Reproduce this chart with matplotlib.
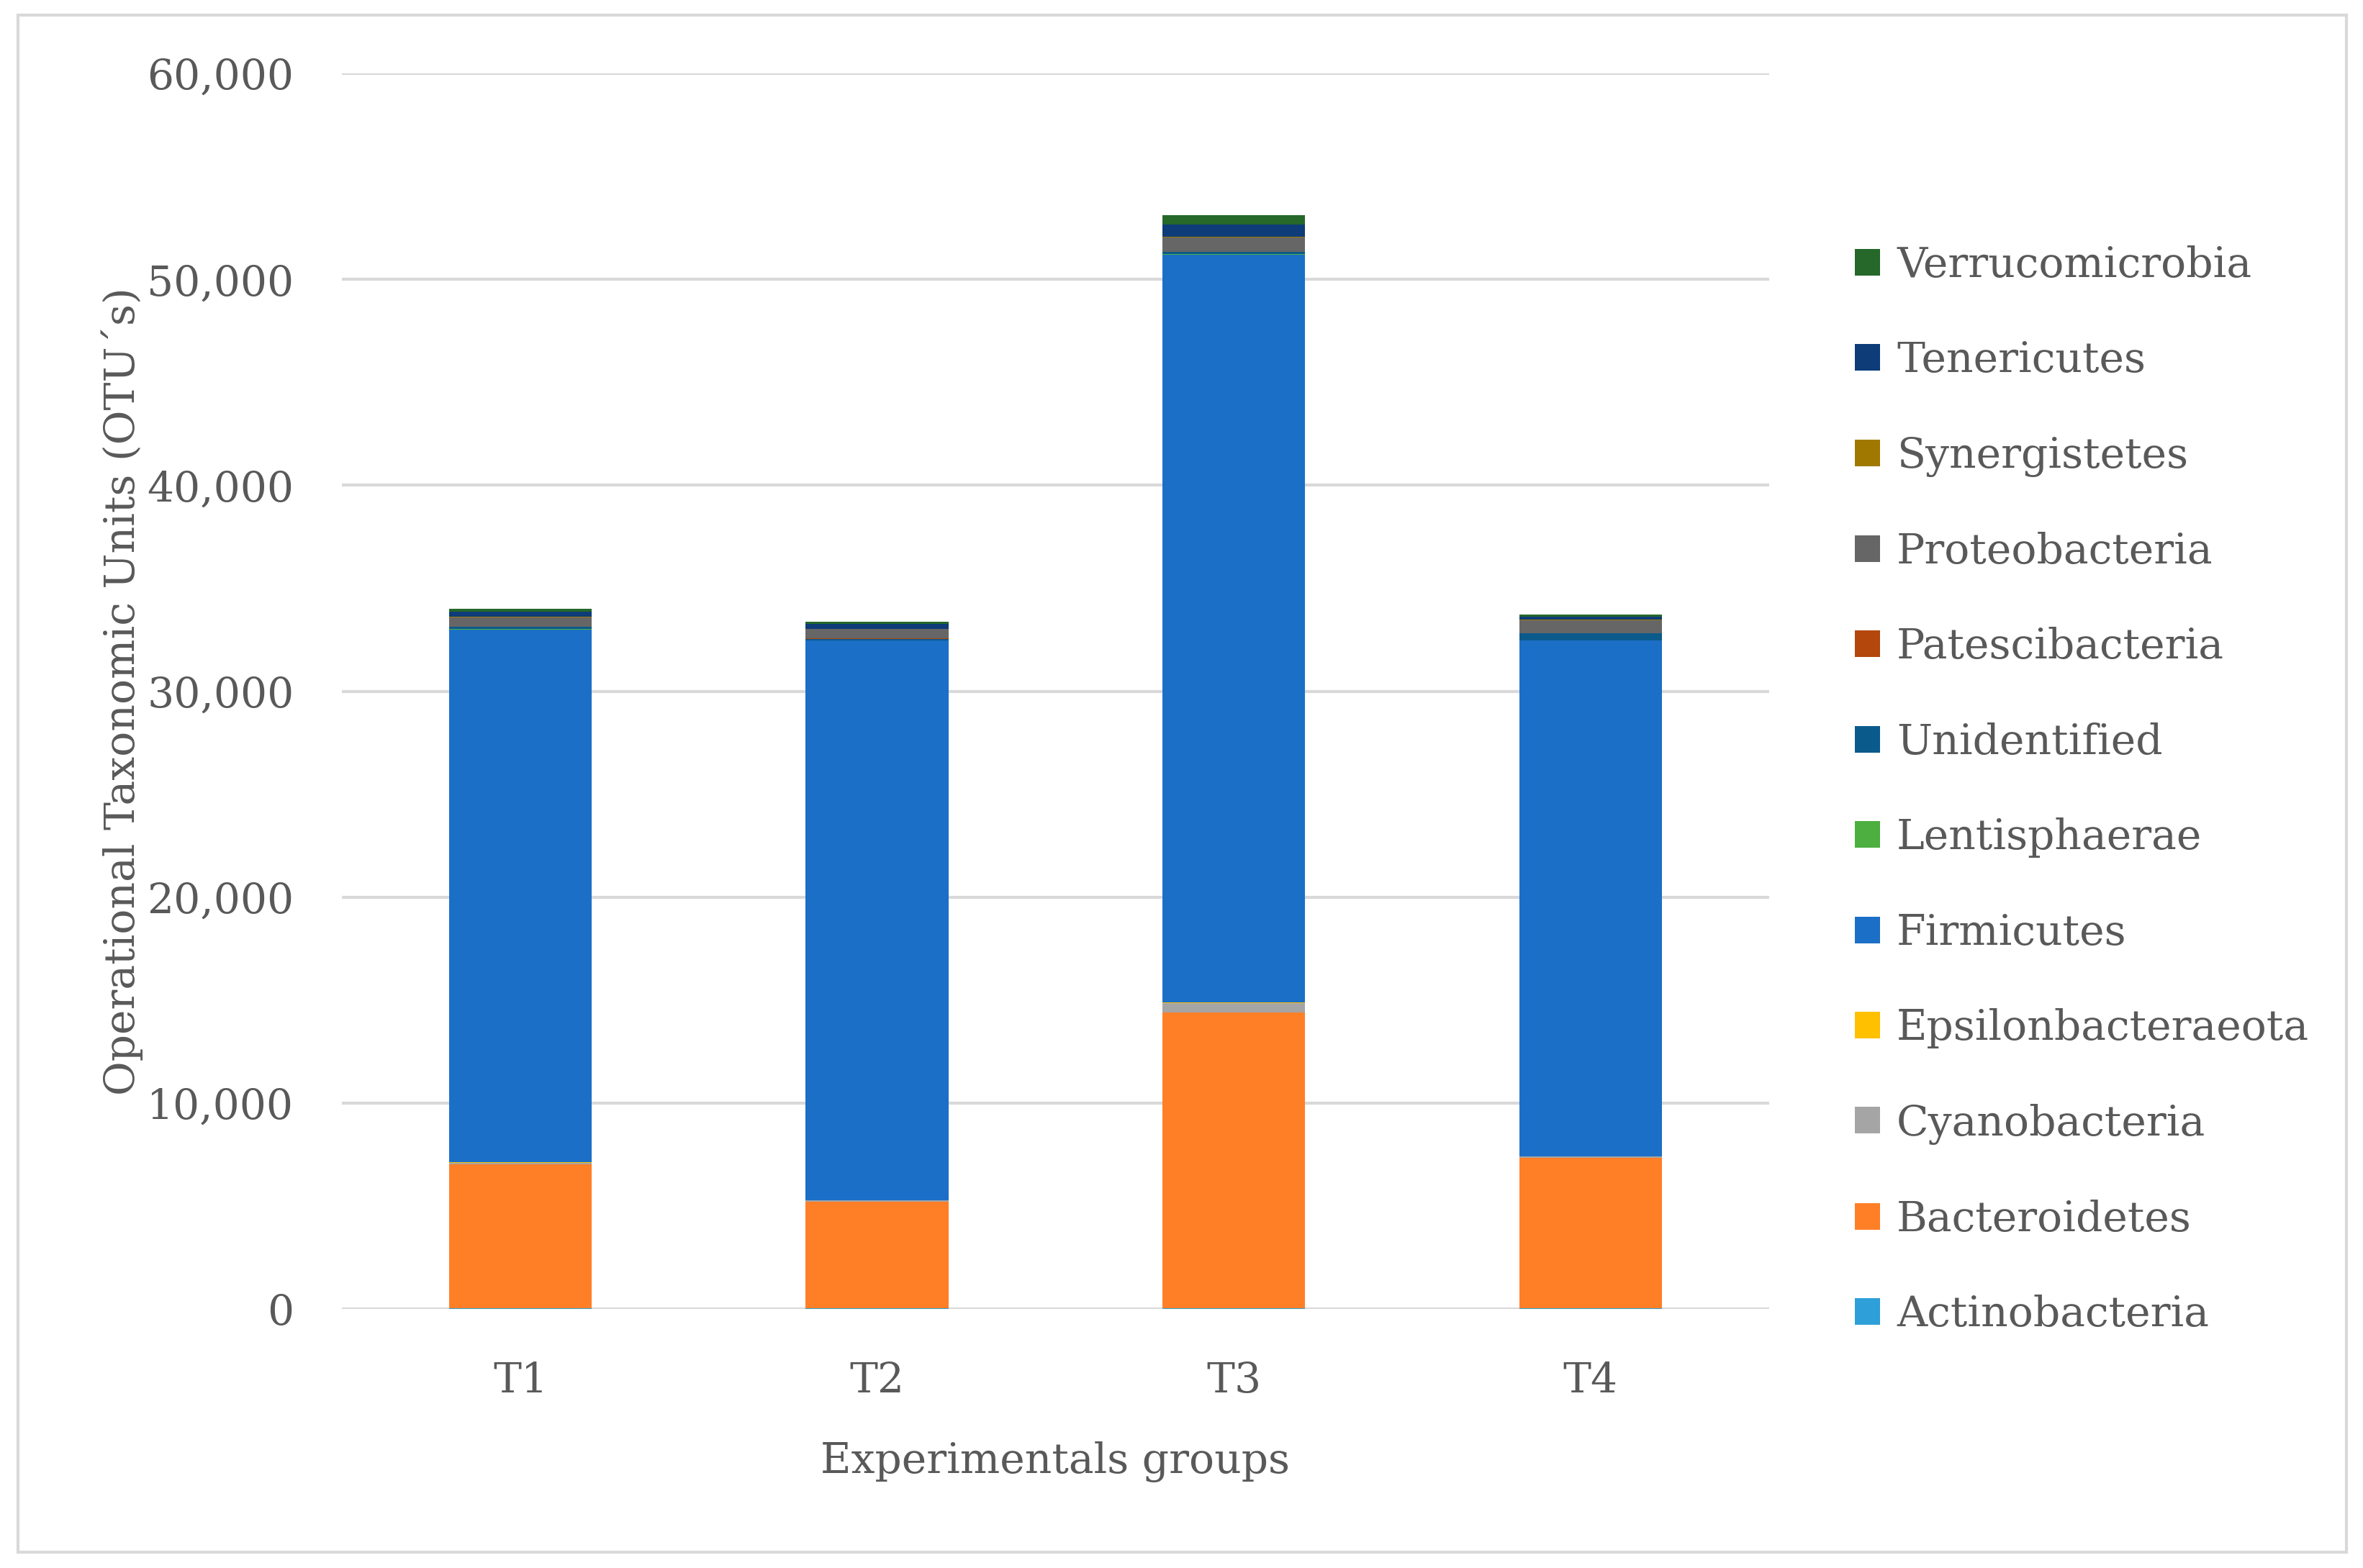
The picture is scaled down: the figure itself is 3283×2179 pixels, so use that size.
import numpy as np
import matplotlib
matplotlib.use("Agg")
from matplotlib import pyplot as plt
from matplotlib.patches import Rectangle
from matplotlib.ticker import FuncFormatter

groups = ["T1", "T2", "T3", "T4"]

phyla = ["Actinobacteria", "Bacteroidetes", "Cyanobacteria", "Epsilonbacteraeota",
         "Firmicutes", "Lentisphaerae", "Unidentified", "Patescibacteria",
         "Proteobacteria", "Synergistetes", "Tenericutes", "Verrucomicrobia"]

colors = ["#2E9FD8", "#FF7F27", "#A5A5A5", "#FFC000",
          "#1C6FC7", "#4CAF3F", "#0B5A8C", "#B3470C",
          "#666666", "#A07800", "#0D3C78", "#25682A"]

# OTU counts per phylum, one value per group (T1..T4)
actinobacteria = [30, 20, 40, 30]
bacteroidetes = [7000, 5200, 14370, 7300]
cyanobacteria = [80, 60, 450, 80]
epsilonbacteraeota = [10, 10, 20, 10]
firmicutes = [25880, 27160, 36310, 25030]
lentisphaerae = [20, 20, 30, 20]
unidentified = [100, 80, 100, 350]
patescibacteria = [10, 10, 20, 10]
proteobacteria = [450, 450, 700, 620]
synergistetes = [20, 20, 30, 20]
tenericutes = [250, 220, 600, 150]
verrucomicrobia = [150, 110, 450, 100]

values = [actinobacteria, bacteroidetes, cyanobacteria, epsilonbacteraeota,
          firmicutes, lentisphaerae, unidentified, patescibacteria,
          proteobacteria, synergistetes, tenericutes, verrucomicrobia]

plt.rcParams['font.family'] = ['DejaVu Serif']
text_color = '#595959'

fig = plt.figure(figsize=(16.415, 10.895), dpi=200)
ax = fig.add_axes([0.1447, 0.1652, 0.7486 - 0.1447, 0.9532 - 0.1652])

x = np.arange(len(groups))
bottom = np.zeros(len(groups))
for name, vals, c in zip(phyla, values, colors):
    ax.bar(x, vals, width=0.4, bottom=bottom, color=c, label=name, zorder=3)
    bottom += np.array(vals)

ax.set_xlim(-0.5, 3.5)
ax.set_ylim(0, 60000)
ax.set_yticks(np.arange(0, 60001, 10000))
ax.yaxis.set_major_formatter(FuncFormatter(lambda v, p: f"{int(v):,}"))
ax.set_xticks(x)
ax.set_xticklabels(groups)
ax.grid(axis='y', color='#D9D9D9', linewidth=1.5, zorder=0)
ax.set_axisbelow(True)
for s in ax.spines.values():
    s.set_visible(False)
ax.tick_params(axis='both', length=0, labelsize=21, colors=text_color)
ax.tick_params(axis='y', pad=24)
ax.tick_params(axis='x', pad=26)
ax.set_xlabel("Experimentals groups", fontsize=21, color=text_color, labelpad=20)
ax.set_ylabel("Operational Taxonomic Units (OTU´s)", fontsize=21, color=text_color, labelpad=2)

handles, labels = ax.get_legend_handles_labels()
leg = fig.legend(handles[::-1], labels[::-1], loc='upper left',
                 bbox_to_anchor=(0.776, 0.857), frameon=False,
                 fontsize=21, handlelength=0.6, handleheight=0.6,
                 handletextpad=0.4, labelspacing=1.31, borderpad=0)
for t in leg.get_texts():
    t.set_color(text_color)

# light frame around the whole chart
fig.patches.append(Rectangle((25 / 3283, 1 - 2157 / 2179), (3260 - 25) / 3283,
                             (2157 - 21) / 2179, transform=fig.transFigure,
                             fill=False, edgecolor='#D9D9D9', linewidth=1.5))

plt.savefig("out.png", dpi=200)
